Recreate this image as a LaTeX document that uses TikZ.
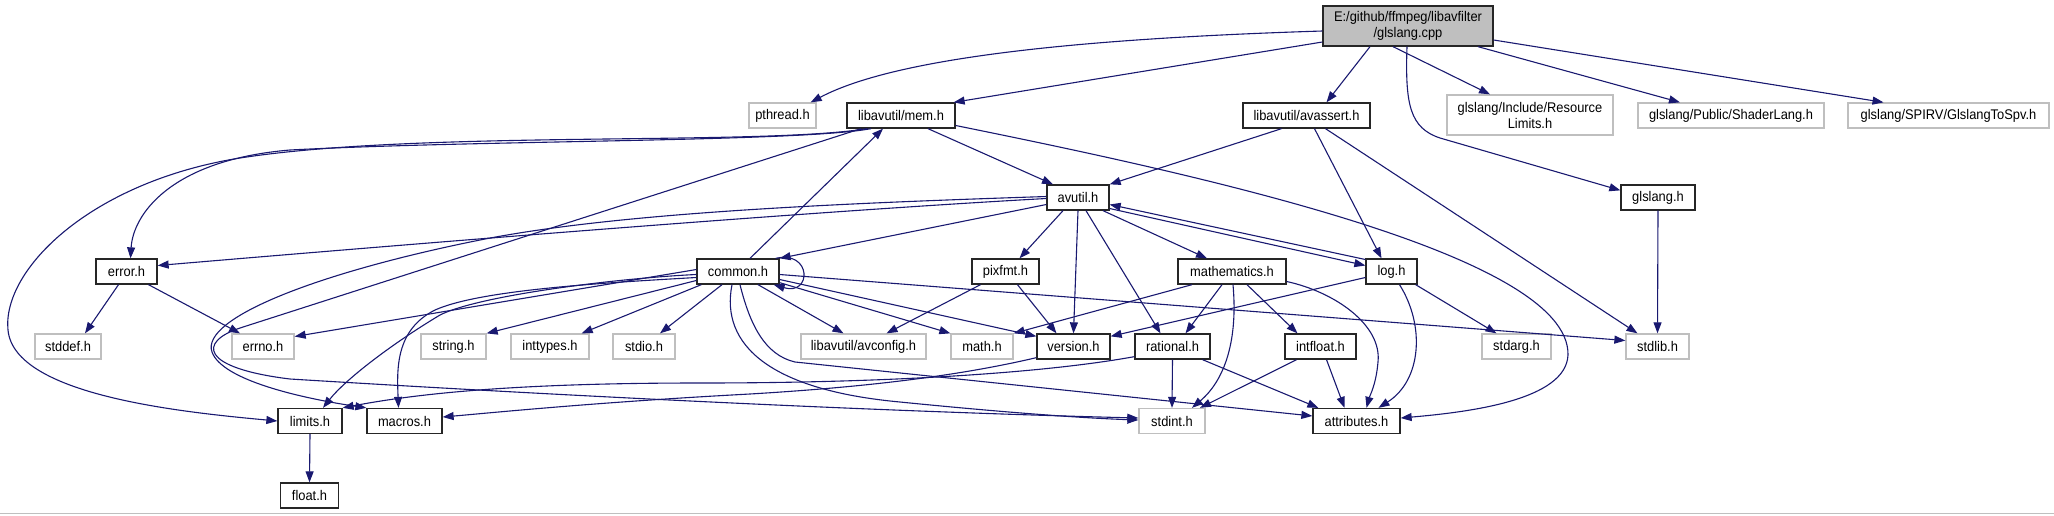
\documentclass[tikz,border=0pt]{standalone}
\usepackage{fontspec}
\setmainfont{Liberation Sans}[FakeStretch=0.92]
\usepackage{tikz}
\usetikzlibrary{arrows.meta}

\definecolor{midnight}{HTML}{191970}
\definecolor{grey75}{HTML}{BFBFBF}

\newcommand{\hdrfont}{\fontsize{14}{16}\selectfont}

\tikzset{
  hdr/.style={draw=black!85, line width=1.3pt, fill=white, inner sep=2pt,
    minimum height=25pt, align=center, font=\hdrfont},
  syshdr/.style={hdr, draw=grey75},
  srcfile/.style={hdr, fill=grey75, minimum height=40pt},
  inc/.style={midnight, line width=1.1pt, -{Triangle[length=11pt,width=8pt]}}
}

\begin{document}
\begin{tikzpicture}[x=1pt, y=-1pt]
    \useasboundingbox (0,0) rectangle (2054,515);
    \draw[grey75, line width=1pt] (0,513.5) -- (2054,513.5);

    % Source file
    \node[srcfile, minimum width=170pt] (root) at (1408,26) {E:/github/ffmpeg/libavfilter\\/glslang.cpp};

    % Direct includes
    \node[syshdr, minimum width=67pt] (pthread) at (782.5,115.5) {pthread.h};
    \node[hdr, minimum width=108pt] (mem) at (901,115.5) {libavutil/mem.h};
    \node[hdr, minimum width=127pt] (avassert) at (1306.5,115.5) {libavutil/avassert.h};
    \node[syshdr, minimum width=166pt, minimum height=40pt] (reslim) at (1530,115) {glslang/Include/Resource\\Limits.h};
    \node[syshdr, minimum width=186pt] (shaderlang) at (1731,115.5) {glslang/Public/ShaderLang.h};
    \node[syshdr, minimum width=201pt] (tospv) at (1948.5,115.5) {glslang/SPIRV/GlslangToSpv.h};

    % Second row
    \node[hdr, minimum width=62pt] (avutil) at (1078,197.5) {avutil.h};
    \node[hdr, minimum width=74pt] (glslangh) at (1658,197.5) {glslang.h};

    % Third row
    \node[hdr, minimum width=61pt] (error) at (126.5,271.5) {error.h};
    \node[hdr, minimum width=82pt] (common) at (738,271.5) {common.h};
    \node[hdr, minimum width=67pt] (pixfmt) at (1005.5,271.5) {pixfmt.h};
    \node[hdr, minimum width=108pt] (mathematics) at (1232,271.5) {mathematics.h};
    \node[hdr, minimum width=51pt] (log) at (1391.5,271.5) {log.h};

    % Fourth row
    \node[syshdr, minimum width=66pt] (stddef) at (68,346.5) {stddef.h};
    \node[syshdr, minimum width=62pt] (errno) at (263,346.5) {errno.h};
    \node[syshdr, minimum width=65pt] (stringh) at (453.5,346.5) {string.h};
    \node[syshdr, minimum width=78pt] (inttypes) at (550,346.5) {inttypes.h};
    \node[syshdr, minimum width=62pt] (stdio) at (644,346.5) {stdio.h};
    \node[syshdr, minimum width=125pt] (avconfig) at (863.5,346.5) {libavutil/avconfig.h};
    \node[syshdr, minimum width=62pt] (mathh) at (982,346.5) {math.h};
    \node[hdr, minimum width=73pt] (version) at (1073.5,346.5) {version.h};
    \node[hdr, minimum width=75pt] (rational) at (1172.5,346.5) {rational.h};
    \node[hdr, minimum width=71pt] (intfloat) at (1320.5,346.5) {intfloat.h};
    \node[syshdr, minimum width=69pt] (stdarg) at (1516.5,346.5) {stdarg.h};
    \node[syshdr, minimum width=63pt] (stdlib) at (1657.5,346.5) {stdlib.h};

    % Fifth row
    \node[hdr, minimum width=64pt] (limits) at (310,421) {limits.h};
    \node[hdr, minimum width=75pt] (macros) at (404.5,421) {macros.h};
    \node[syshdr, minimum width=66pt] (stdint) at (1172,421) {stdint.h};
    \node[hdr, minimum width=87pt] (attributes) at (1356.5,421) {attributes.h};

    % Last row
    \node[hdr, minimum width=58pt] (floath) at (309.5,495.5) {float.h};

    % Edges from the source file
    \draw[inc] ([yshift=-5pt]root.west) .. controls (1100,38) and (900,55) .. ([xshift=-6pt]pthread.north east);
    \draw[inc] ([yshift=-16pt]root.west) -- ([xshift=-2pt]mem.north east);
    \draw[inc] ([xshift=-38pt]root.south) -- ([xshift=20pt]avassert.north);
    \draw[inc] ([xshift=-15pt]root.south) -- ([xshift=-40pt]reslim.north);
    \draw[inc] ([xshift=70pt]root.south) -- ([xshift=-51pt]shaderlang.north);
    \draw[inc] ([yshift=-14pt]root.east) -- ([xshift=-65pt]tospv.north);
    \draw[inc] ([xshift=-1pt]root.south) .. controls (1405,105) and (1410,128) .. (1440,138) -- ([yshift=-6pt]glslangh.north west);

    % libavutil/mem.h
    \draw[inc] ([xshift=27pt]mem.south) -- ([xshift=-25pt]avutil.north);
    \draw[inc] ([xshift=-30pt]mem.south) .. controls (800,142) and (480,140) .. (290,150)
        .. controls (170,160) and (133,215) .. ([xshift=4pt]error.north);
    \draw[inc] ([xshift=-34pt]mem.south) .. controls (760,146) and (420,130) .. (240,158)
        .. controls (90,182) and (2,270) .. (8,330) .. controls (14,395) and (180,412) .. (limits.west);
    \draw[inc] ([yshift=-10pt]mem.east) .. controls (1200,175) and (1570,255) .. (1568,355)
        .. controls (1566,400) and (1470,412) .. ([yshift=3pt]attributes.east);
    \draw[inc] ([xshift=-40pt]mem.south) -- (240,328) .. controls (198,342) and (200,368) .. (290,379)
        .. controls (600,398) and (900,412) .. ([yshift=3pt]stdint.west);

    % libavutil/avassert.h and glslang.h
    \draw[inc] ([xshift=-25pt]avassert.south) -- (avutil.north east);
    \draw[inc] ([xshift=8pt]avassert.south) -- ([xshift=-10pt]log.north);
    \draw[inc] ([xshift=19pt]avassert.south) -- ([xshift=-20pt]stdlib.north);
    \draw[inc] (glslangh.south) -- (stdlib.north);

    % avutil.h
    \draw[inc] ([yshift=-7pt]avutil.west) -- (common.north east);
    \draw[inc] ([xshift=-15pt]avutil.south) -- ([xshift=14pt]pixfmt.north);
    \draw[inc] (avutil.south) -- (version.north);
    \draw[inc] ([xshift=8pt]avutil.south) -- ([xshift=-12pt]rational.north);
    \draw[inc] ([xshift=25pt]avutil.south) -- ([xshift=-25pt]mathematics.north);
    \draw[inc] ([yshift=-11pt]avutil.east) -- ([yshift=6pt]log.west);
    \draw[inc] ([yshift=-1pt]avutil.west) .. controls (800,212) and (400,245) .. ([yshift=6pt]error.east);
    \draw[inc] ([yshift=1pt]avutil.west) .. controls (850,203) and (620,212) .. (480,240)
        .. controls (320,272) and (200,318) .. (212,352) .. controls (222,380) and (300,398) .. (macros.north west);

    % common.h
    \draw[inc] ([xshift=12pt]common.north) -- ([xshift=-18pt]mem.south);
    \draw[inc] ([xshift=-4pt]common.north east) .. controls (812,250) and (812,296) .. ([xshift=-6pt]common.south east);
    \draw[inc] ([yshift=2pt]common.west) -- ([yshift=10pt]errno.east);
    \draw[inc] ([yshift=-9pt]common.west) -- (stringh.north east);
    \draw[inc] ([xshift=5pt]common.south west) -- ([xshift=-8pt]inttypes.north east);
    \draw[inc] ([xshift=-16pt]common.south) -- ([xshift=16pt]stdio.north);
    \draw[inc] ([xshift=20pt]common.south) -- ([xshift=-20pt]avconfig.north);
    \draw[inc] ([yshift=2pt]common.south east) -- (mathh.north west);
    \draw[inc] ([yshift=-8pt]common.east) -- ([yshift=-3pt]version.north west);
    \draw[inc] ([yshift=-3pt]common.east) -- ([yshift=6pt]stdlib.west);
    \draw[inc] ([yshift=-3pt]common.west) .. controls (620,278) and (480,295) .. (440,315)
        .. controls (390,345) and (345,380) .. ([xshift=13pt]limits.north);
    \draw[inc] ([yshift=-6pt]common.west) .. controls (600,283) and (480,290) .. (435,310)
        .. controls (395,330) and (397,370) .. ([xshift=-6pt]macros.north);
    \draw[inc] ([xshift=-6pt]common.south) .. controls (720,345) and (770,390) .. (900,402)
        .. controls (1000,412) and (1080,418) .. ([yshift=1pt]stdint.west);
    \draw[inc] ([xshift=2pt]common.south) .. controls (750,325) and (765,355) .. (795,362) -- ([yshift=5pt]attributes.west);

    % pixfmt.h, mathematics.h, log.h
    \draw[inc] ([xshift=-25pt]pixfmt.south) -- ([xshift=23pt]avconfig.north);
    \draw[inc] ([xshift=12pt]pixfmt.south) -- ([xshift=-17pt]version.north);
    \draw[inc] ([xshift=-40pt]mathematics.south) -- (mathh.north east);
    \draw[inc] ([xshift=-10pt]mathematics.south) -- ([xshift=13pt]rational.north);
    \draw[inc] ([xshift=15pt]mathematics.south) -- ([xshift=-23pt]intfloat.north);
    \draw[inc] ([xshift=1pt]mathematics.south) .. controls (1238,340) and (1225,380) .. ([xshift=20pt]stdint.north);
    \draw[inc] ([yshift=-10pt]mathematics.east) .. controls (1335,292) and (1382,325) .. (1378,362)
        .. controls (1376,385) and (1370,395) .. ([xshift=10pt]attributes.north);
    \draw[inc] ([yshift=12pt]log.west) -- ([yshift=-7pt]avutil.east);
    \draw[inc] ([yshift=-6pt]log.west) -- ([yshift=-3pt]version.north east);
    \draw[inc] ([xshift=-2pt]log.south east) -- ([xshift=-20pt]stdarg.north);
    \draw[inc] ([xshift=8pt]log.south) .. controls (1425,325) and (1422,380) .. ([xshift=22pt]attributes.north);

    % Fourth row headers
    \draw[inc] (rational.south) -- (stdint.north);
    \draw[inc] ([xshift=30pt]rational.south) -- ([xshift=6pt]attributes.north west);
    \draw[inc] ([yshift=3pt]rational.south west) .. controls (1050,372) and (900,383) .. (700,383)
        .. controls (520,383) and (420,393) .. (limits.north east);
    \draw[inc] ([yshift=2pt]version.south west) .. controls (950,378) and (850,388) .. (750,394)
        .. controls (600,402) and (500,412) .. ([yshift=4pt]macros.east);
    \draw[inc] ([xshift=-24pt]intfloat.south) -- ([xshift=28pt]stdint.north);
    \draw[inc] ([xshift=6pt]intfloat.south) -- ([xshift=-12pt]attributes.north);

    % error.h and limits.h
    \draw[inc] ([xshift=-8pt]error.south) -- ([xshift=17pt]stddef.north);
    \draw[inc] ([xshift=22pt]error.south) -- ([xshift=-23pt]errno.north);
    \draw[inc] (limits.south) -- (floath.north);
\end{tikzpicture}
\end{document}
